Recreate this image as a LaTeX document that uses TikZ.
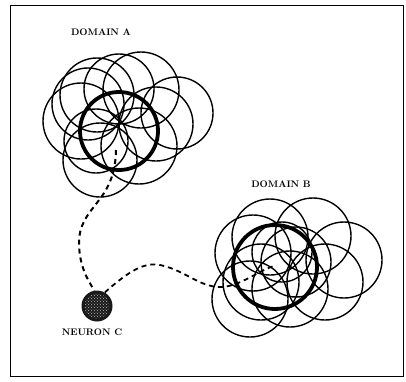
\documentclass[tikz,border=0pt]{standalone}
\usetikzlibrary{patterns}
\begin{document}
\begin{tikzpicture}[x=1pt,y=-1pt,
  cellring/.style={circle,draw=black,line width=1.4pt,minimum size=74pt,inner sep=0pt,outer sep=0pt},
  domring/.style={circle,draw=black,line width=3.8pt,inner sep=0pt,outer sep=0pt},
  lab/.style={font=\fontsize{9.5}{10}\selectfont\bfseries,inner sep=0pt},
  link/.style={draw=black,line width=2pt,dash pattern=on 5pt off 4pt}]
\useasboundingbox (0,0) rectangle (406,381);
\node[draw=black,line width=1.4pt,minimum width=393pt,minimum height=371pt,inner sep=0pt,anchor=north west] (frame) at (9.5,4.5) {};
% Domain A
\node[cellring] (a1) at (97,95) {};
\node[cellring,minimum size=76pt] (a2) at (141,90) {};
\node[cellring,minimum size=72pt] (a3) at (177,113) {};
\node[cellring,minimum size=76pt] (a4) at (81,121) {};
\node[cellring] (a5) at (156,124) {};
\node[cellring] (a6) at (100,160) {};
\node[cellring,minimum size=76pt] (a7) at (139,146) {};
\node[cellring,minimum size=72pt] (a8) at (88,104) {};
\node[cellring,minimum size=70pt] (a9) at (119,89) {};
\node[cellring,minimum size=64pt] (a10) at (96,141) {};
\node[domring,minimum size=78pt] (da) at (119,131) {};
% Domain B
\node[cellring,minimum size=76pt] (b1) at (270,237) {};
\node[cellring,minimum size=76pt] (b2) at (313,236) {};
\node[cellring,minimum size=76pt] (b3) at (344,260) {};
\node[cellring,minimum size=76pt] (b4) at (325,282) {};
\node[cellring,minimum size=76pt] (b5) at (253,253) {};
\node[cellring,minimum size=76pt] (b6) at (261,282) {};
\node[cellring,minimum size=76pt] (b7) at (250,299) {};
\node[cellring,minimum size=76pt] (b8) at (290,289) {};
\node[cellring,minimum size=70pt] (b9) at (296,262) {};
\node[cellring,minimum size=60pt] (b10) at (282,252) {};
\node[domring,minimum size=84pt] (db) at (275,267) {};
% Neuron C
\node[circle,fill=black!90,minimum size=31pt,inner sep=0pt] (nc) at (97,306) {};
\node[circle,minimum size=25pt,inner sep=0pt,pattern=crosshatch dots,pattern color=white!75!black] (ncdots) at (nc.center) {};
% labels
\node[lab] (la) at (101,32) {DOMAIN A};
\node[lab] (lb) at (281,184) {DOMAIN B};
\node[lab] (lc) at (92,332) {NEURON C};
% connectors
\coordinate (sa) at (116,150);
\coordinate (sb) at (274,266);
\path[link] (sa) .. controls (115,205) and (78,205) .. (79,245)
  .. controls (80,268) and (88,280) .. (nc.100);
\path[link,line width=1.8pt] (nc.60) .. controls (130,270) and (145,262) .. (160,265)
  .. controls (185,270) and (200,288) .. (222,287)
  .. controls (240,286) and (260,270) .. (sb);
\end{tikzpicture}
\end{document}
